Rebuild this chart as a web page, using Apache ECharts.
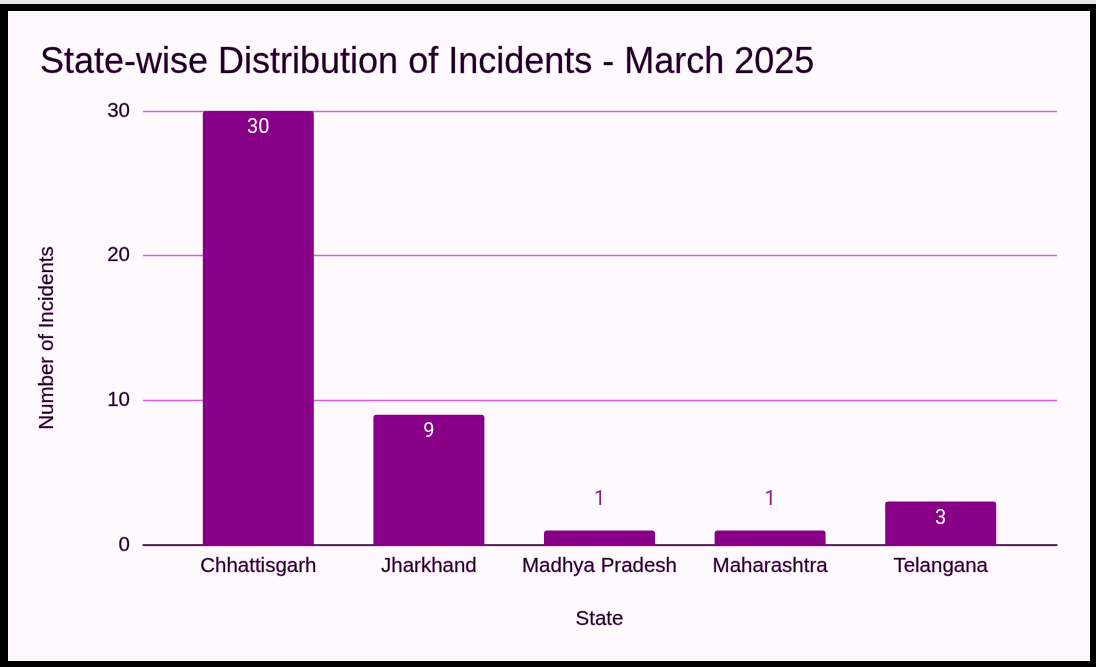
<!DOCTYPE html>
<html>
<head>
<meta charset="utf-8">
<script src="https://cdn.jsdelivr.net/npm/echarts@6/dist/echarts.min.js"></script>
<style>
  html, body { margin: 0; padding: 0; background: #000; }
  #wrap { position: relative; width: 1096px; height: 667px; background: #000; overflow: hidden; }
  #topstrip { position: absolute; left: 0; top: 0; width: 1096px; height: 4px; background: #e6e6e6; }
  #chart { position: absolute; left: 8px; top: 11px; width: 1082px; height: 650px; background: #fdf9fd; }
</style>
</head>
<body>
<div id="wrap">
  <div id="topstrip"></div>
  <div id="chart"></div>
</div>
<script>
// Incidents per state, March 2025
const states = ['Chhattisgarh', 'Jharkhand', 'Madhya Pradesh', 'Maharashtra', 'Telangana'];
const incidents = [30, 9, 1, 1, 3];
const yTicks = [0, 10, 20, 30];

const titleText = 'State-wise Distribution of Incidents - March 2025';
const xName = 'State';
const yName = 'Number of Incidents';

const barColor = '#880088';
const textColor = '#1c0020';
const halo = { textBorderColor: 'rgba(140,0,140,0.35)', textBorderWidth: 0.8 };

const chart = echarts.init(document.getElementById('chart'));

// Labels that do not fit inside short bars go above them
const barData = incidents.map(v => ({
  value: v,
  label: v < 3
    ? { position: 'top', distance: 21, color: '#8a1a8a' }
    : { position: 'insideTop', distance: 7, color: '#ffffff' }
}));

const axisFont = Object.assign({ fontFamily: 'Liberation Sans', fontSize: 20.5, color: textColor }, halo);

chart.setOption({
  animation: false,
  title: {
    text: titleText,
    left: 27,
    top: 29,
    textStyle: Object.assign({ fontFamily: 'Liberation Sans', fontSize: 36, fontWeight: 'normal', color: textColor }, halo)
  },
  grid: [
    // grid 0: value scale, gridlines and the baseline across the full width
    { left: 135, right: 33, top: 100, bottom: 116 },
    // grid 1: bars, inset from the gridline span
    { left: 165, width: 853, top: 100, bottom: 116 }
  ],
  xAxis: [
    {
      gridIndex: 0, type: 'category', data: states,
      axisLine: { show: true, lineStyle: { color: '#2a0a2a', width: 1.5 } },
      axisTick: { show: false }, axisLabel: { show: false },
      splitLine: { show: false }
    },
    {
      gridIndex: 1, type: 'category', data: states,
      axisLine: { show: false }, axisTick: { show: false },
      axisLabel: Object.assign({ interval: 0, margin: 11 }, axisFont),
      name: xName, nameLocation: 'middle', nameGap: 64,
      nameTextStyle: axisFont
    }
  ],
  yAxis: [
    {
      gridIndex: 0, type: 'value', min: yTicks[0], max: yTicks[yTicks.length - 1], interval: 10,
      axisLine: { show: false }, axisTick: { show: false },
      axisLabel: Object.assign({ margin: 13 }, axisFont),
      splitLine: { show: true, lineStyle: { color: '#d95fd9', width: 1.4 } },
      name: yName, nameLocation: 'middle', nameGap: 85, nameRotate: 90,
      nameTextStyle: Object.assign({ padding: [0, 20, 0, 0] }, axisFont)
    },
    {
      gridIndex: 1, type: 'value', min: yTicks[0], max: yTicks[yTicks.length - 1], interval: 10,
      show: false
    }
  ],
  series: [{
    type: 'bar',
    xAxisIndex: 1, yAxisIndex: 1,
    data: barData,
    barWidth: 111,
    itemStyle: { color: barColor, borderRadius: [3, 3, 0, 0] },
    label: { show: true, fontFamily: 'Roboto', fontSize: 20 }
  }]
});
</script>
</body>
</html>
